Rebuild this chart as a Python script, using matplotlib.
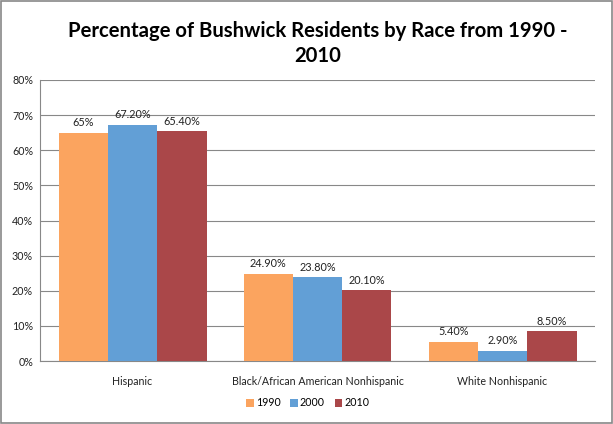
import matplotlib
matplotlib.use("Agg")
import matplotlib.pyplot as plt
import numpy as np
from matplotlib.ticker import FuncFormatter
from matplotlib.patches import Rectangle

categories = ["Hispanic", "Black/African American Nonhispanic", "White Nonhispanic"]
years = ["1990", "2000", "2010"]
values_1990 = [65.0, 24.9, 5.4]
values_2000 = [67.2, 23.8, 2.9]
values_2010 = [65.4, 20.1, 8.5]
labels_1990 = ["65%", "24.90%", "5.40%"]
labels_2000 = ["67.20%", "23.80%", "2.90%"]
labels_2010 = ["65.40%", "20.10%", "8.50%"]
title = "Percentage of Bushwick Residents by Race from 1990 -\n2010"

colors = ["#FBA45F", "#629FD6", "#AA4749"]
series = [values_1990, values_2000, values_2010]
labels = [labels_1990, labels_2000, labels_2010]

plt.rcParams['font.family'] = ['Lato', 'DejaVu Sans']

fig = plt.figure(figsize=(6.13, 4.24), dpi=100)
ax = fig.add_axes([40/613, 63/424, 555/613, 281/424])

x = np.arange(len(categories))
w = 0.8 / 3
for i, (vals, lab, c, yr) in enumerate(zip(series, labels, colors, years)):
    pos = x + (i - 1) * w
    bars = ax.bar(pos, vals, width=w, color=c, label=yr, zorder=3)
    for b, t in zip(bars, lab):
        ax.text(b.get_x() + b.get_width()/2, b.get_height() + 1.3, t,
                ha='center', va='bottom', fontsize=7.8, color='#222222', zorder=4)

ax.set_xlim(-0.5, 2.5)
ax.set_ylim(0, 80)
ax.set_yticks(np.arange(0, 81, 10))
ax.yaxis.set_major_formatter(FuncFormatter(lambda v, p: f"{int(v)}%"))
ax.grid(axis='y', color='#888888', linewidth=0.8, zorder=0)
ax.set_xticks(x)
ax.set_xticklabels(categories)
ax.tick_params(axis='both', labelsize=7.7, length=0, colors='#222222')
ax.tick_params(axis='x', pad=11)
ax.tick_params(axis='y', pad=5)
for s in ['top', 'right']:
    ax.spines[s].set_visible(False)
ax.spines['left'].set_color('#888888')
ax.spines['bottom'].set_color('#888888')

ax.set_title(title, fontsize=14.6, fontweight='bold', pad=13, linespacing=1.3)

fig.legend(loc='center', bbox_to_anchor=(0.502, 21/424), ncol=3, frameon=False,
           fontsize=7.7, handlelength=0.7, handleheight=0.7, handletextpad=0.2,
           columnspacing=0.9)

fig.patches.append(Rectangle((0.002, 0.002), 0.996, 0.996, transform=fig.transFigure,
                             fill=False, edgecolor='#888888', linewidth=1.2))

fig.savefig("out.png", dpi=100)
